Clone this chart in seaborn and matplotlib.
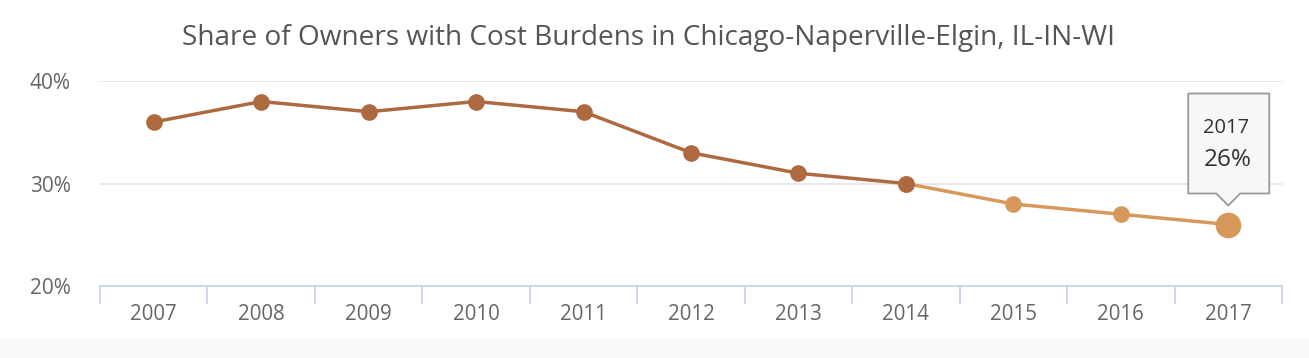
import matplotlib
matplotlib.use("Agg")
import matplotlib.pyplot as plt
import matplotlib.patches as mpatches
from matplotlib.path import Path
import seaborn as sns
import pandas as pd
import numpy as np

years = ["2007", "2008", "2009", "2010", "2011", "2012", "2013", "2014", "2015", "2016", "2017"]
share = [36, 38, 37, 38, 37, 33, 31, 30, 28, 27, 26]
yticks = [20, 30, 40]
title = "Share of Owners with Cost Burdens in Chicago-Naperville-Elgin, IL-IN-WI"
split_year = "2014"

dark = "#ad6a40"
light = "#d6995b"

sns.set_style("white")
plt.rcParams["font.family"] = ["Open Sans", "DejaVu Sans"]

df = pd.DataFrame({"year": years, "share": share})
df["pos"] = np.arange(len(df))
k = years.index(split_year)
df_dark = df.iloc[: k + 1]
df_light = df.iloc[k:]

W, H = 1309, 358
fig = plt.figure(figsize=(W / 100, H / 100), dpi=100)
fig.patch.set_facecolor("white")
fig.patches.append(mpatches.Rectangle((0, 0), 1, 20 / H, transform=fig.transFigure,
                                      facecolor="#f9f9f9", edgecolor="none", zorder=0))
ax = fig.add_axes([100 / W, (H - 286) / H, (1282 - 100) / W, (286 - 81) / H])
ax.set_facecolor("none")

sns.lineplot(data=df_light, x="pos", y="share", ax=ax, color=light, linewidth=2.5,
             marker="o", markersize=12, markeredgewidth=0, zorder=3, clip_on=False)
sns.lineplot(data=df_dark, x="pos", y="share", ax=ax, color=dark, linewidth=2.5,
             marker="o", markersize=12, markeredgewidth=0, zorder=4, clip_on=False)
# highlighted last point
ax.plot(df["pos"].iloc[-1], df["share"].iloc[-1], "o", color=light, markersize=18.5,
        markeredgewidth=0, zorder=5, clip_on=False)

ax.set_xlim(-0.5, len(years) - 0.5)
ax.set_ylim(yticks[0], yticks[-1])
ax.set_yticks(yticks)
ax.set_yticklabels([f"{v}%" for v in yticks])
ax.set_xticks(df["pos"])
ax.set_xticklabels(years)
ax.set_xticks(np.arange(-0.5, len(years)), minor=True)
ax.set_xlabel("")
ax.set_ylabel("")

for s in ["top", "right", "left"]:
    ax.spines[s].set_visible(False)
ax.spines["bottom"].set_color("#ccd6eb")
ax.spines["bottom"].set_linewidth(1.3)

ax.yaxis.grid(True, color="#e6e6e6", linewidth=1.3)
ax.xaxis.grid(False)
ax.set_axisbelow(True)

ax.tick_params(axis="x", which="major", bottom=True, length=0, pad=13, labelsize=14.8,
               labelcolor="#666666")
ax.tick_params(axis="x", which="minor", bottom=True, length=13, width=1.3, color="#ccd6eb",
               direction="out")
ax.tick_params(axis="y", length=0, pad=21, labelsize=15, labelcolor="#666666")

fig.text(649 / W, (H - 38) / H, title, ha="center", va="center", fontsize=20.2, color="#555555")

# tooltip
fig.canvas.draw()
px, py = ax.transData.transform((df["pos"].iloc[-1], df["share"].iloc[-1]))
tip_y = py + 19
bx0, bx1 = px - 40, px + 41
by0, by1 = tip_y + 12, tip_y + 112
verts = [(bx0, by0), (px - 12, by0), (px, tip_y), (px + 12, by0), (bx1, by0),
         (bx1, by1), (bx0, by1), (bx0, by0)]
codes = [Path.MOVETO] + [Path.LINETO] * 6 + [Path.CLOSEPOLY]
tooltip = mpatches.PathPatch(Path(verts, codes), facecolor="#f7f7f7", edgecolor="#999999",
                             linewidth=1.3, transform=None, zorder=10, joinstyle="round")
fig.patches.append(tooltip)
fig.text((bx0 + 15) / W, (tip_y + 78) / H, years[-1], ha="left", va="center",
         fontsize=14.5, color="#333333", zorder=11)
fig.text((bx0 + 15) / W, (tip_y + 45) / H, f"{share[-1]}%", ha="left", va="center",
         fontsize=17.5, color="#333333", zorder=11)

fig.savefig("out.png", dpi=100)
